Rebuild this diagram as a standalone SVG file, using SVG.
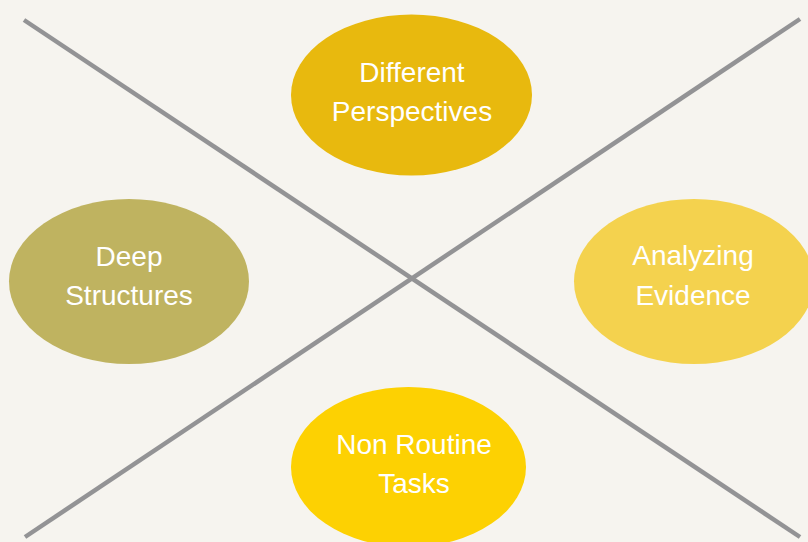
<svg xmlns="http://www.w3.org/2000/svg" width="808" height="542" viewBox="0 0 808 542">
<style>
.ln{stroke:#939395;stroke-width:4.5;stroke-linecap:butt;fill:none}
.t{font-family:"Liberation Sans",Arial,sans-serif;font-size:28px;fill:#ffffff;text-anchor:middle}
</style>
<rect width="808" height="542" fill="#F6F4EF"/>
<g id="connectors">
<line class="ln" x1="24" y1="20" x2="800" y2="537"/>
<line class="ln" x1="25" y1="537" x2="800" y2="19"/>
</g>
<g id="different-perspectives">
<ellipse cx="411.5" cy="95" rx="120.5" ry="80.5" fill="#E8B90E"/>
<text class="t" x="412" y="82">Different</text>
<text class="t" x="412" y="121">Perspectives</text>
</g>
<g id="analyzing-evidence">
<ellipse cx="694" cy="281.5" rx="120" ry="82.5" fill="#F4D24E"/>
<text class="t" x="693" y="265">Analyzing</text>
<text class="t" x="693" y="305">Evidence</text>
</g>
<g id="deep-structures">
<ellipse cx="129" cy="281.5" rx="120" ry="82.5" fill="#BFB360"/>
<text class="t" x="129" y="266">Deep</text>
<text class="t" x="129" y="305">Structures</text>
</g>
<g id="non-routine-tasks">
<ellipse cx="408.5" cy="467" rx="117.5" ry="80" fill="#FDD102"/>
<text class="t" x="414" y="454">Non Routine</text>
<text class="t" x="414" y="493">Tasks</text>
</g>
</svg>
